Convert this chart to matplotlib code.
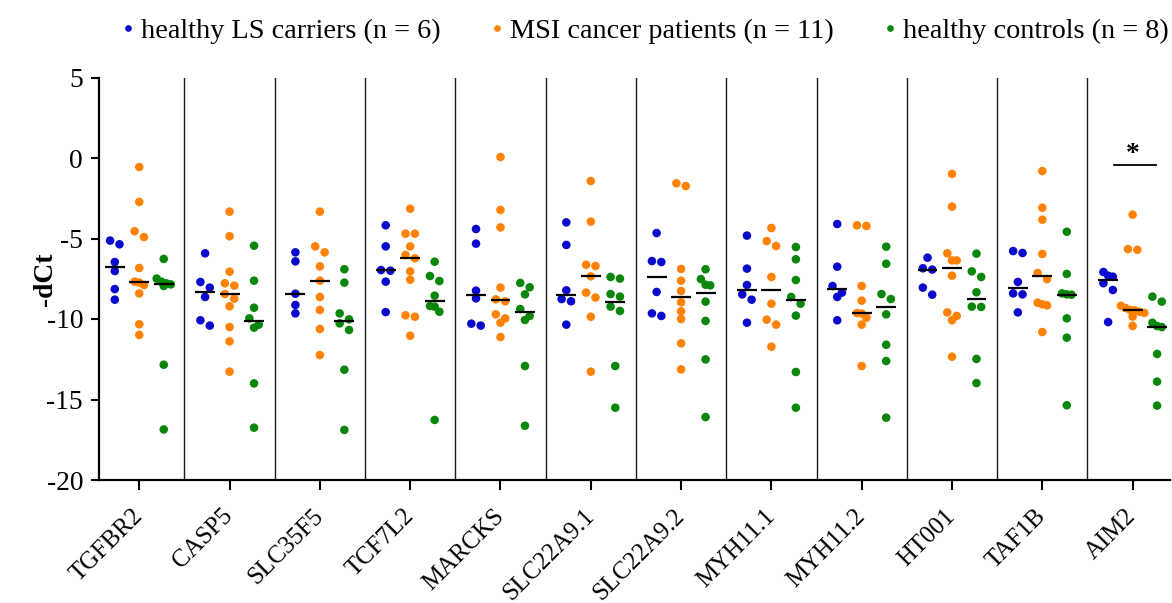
import numpy as np
import matplotlib
matplotlib.use("Agg")
import matplotlib.pyplot as plt
from matplotlib.lines import Line2D

plt.rcParams["font.family"] = ["Liberation Serif", "DejaVu Serif"]
plt.rcParams["axes.unicode_minus"] = False

genes = ["TGFBR2", "CASP5", "SLC35F5", "TCF7L2", "MARCKS", "SLC22A9.1",
         "SLC22A9.2", "MYH11.1", "MYH11.2", "HT001", "TAF1B", "AIM2"]

group_names = ["healthy LS carriers (n = 6)",
               "MSI cancer patients (n = 11)",
               "healthy controls (n = 8)"]
group_colors = ["#0A0ACC", "#FF8205", "#0A860A"]

ls_carriers = [
    [-5.13, -5.36, -6.46, -7.02, -8.14, -8.80],
    [-5.92, -7.70, -8.05, -8.63, -10.08, -10.41],
    [-5.86, -6.42, -8.43, -9.13, -9.65],
    [-4.18, -5.49, -6.96, -7.00, -7.68, -9.57],
    [-4.41, -5.32, -8.24, -8.72, -10.29, -10.41],
    [-4.00, -5.40, -8.22, -8.76, -8.90, -10.35],
    [-4.66, -6.40, -6.46, -8.32, -9.65, -9.81],
    [-4.82, -6.87, -7.89, -8.47, -8.80, -10.23],
    [-4.10, -6.75, -7.95, -8.36, -8.63, -10.08],
    [-6.19, -6.85, -6.93, -8.05, -8.49],
    [-5.78, -5.90, -7.70, -8.41, -8.47, -9.59],
    [-7.08, -7.31, -7.37, -7.78, -8.20, -10.19],
]

msi_patients = [
    [-0.56, -2.73, -4.55, -4.91, -6.83, -7.68, -7.74, -7.89, -8.41, -10.33, -10.99],
    [-3.33, -4.86, -7.06, -7.78, -7.93, -8.45, -8.74, -9.21, -10.50, -11.39, -13.27],
    [-3.33, -5.49, -5.86, -6.73, -7.62, -8.63, -9.44, -10.62, -12.24],
    [-3.15, -4.70, -4.70, -5.49, -6.02, -6.23, -7.04, -7.56, -9.77, -9.86, -11.04],
    [0.06, -3.23, -4.31, -8.05, -8.78, -8.90, -9.71, -9.96, -10.23, -11.12],
    [-1.43, -3.95, -6.63, -6.71, -7.35, -8.36, -8.67, -9.86, -13.27],
    [-1.57, -1.74, -6.89, -7.62, -8.26, -8.96, -9.52, -10.00, -11.51, -13.13],
    [-4.35, -5.16, -5.47, -7.39, -9.05, -10.04, -10.35, -11.72],
    [-4.18, -4.22, -7.95, -8.86, -9.63, -9.66, -9.92, -10.35, -12.92],
    [-0.99, -3.02, -5.92, -6.36, -6.36, -7.31, -9.59, -9.81, -10.08, -12.34],
    [-0.81, -3.09, -3.83, -5.96, -7.14, -7.52, -8.99, -9.09, -9.15, -10.81],
    [-3.52, -5.66, -5.70, -9.18, -9.32, -9.44, -9.46, -9.55, -9.62, -9.85, -10.43],
]

healthy_controls = [
    [-6.27, -7.49, -7.68, -7.78, -7.85, -7.95, -12.84, -16.86],
    [-5.45, -7.62, -9.30, -9.96, -10.35, -10.54, -14.00, -16.75],
    [-6.91, -7.74, -9.65, -10.02, -10.27, -10.68, -13.15, -16.89],
    [-6.44, -7.33, -7.64, -8.55, -9.19, -9.23, -9.55, -16.27],
    [-7.76, -8.03, -8.47, -9.38, -9.81, -10.06, -12.92, -16.63],
    [-7.39, -7.49, -8.45, -8.61, -9.23, -9.50, -12.92, -15.51],
    [-6.91, -7.52, -7.87, -7.91, -8.92, -10.12, -12.51, -16.09],
    [-5.53, -6.29, -7.58, -8.63, -9.05, -9.79, -13.29, -15.51],
    [-5.51, -6.57, -8.45, -8.76, -9.71, -11.60, -12.61, -16.13],
    [-5.94, -7.04, -7.39, -8.34, -9.23, -9.25, -12.48, -13.98],
    [-4.58, -7.20, -8.41, -8.47, -8.49, -9.96, -11.16, -15.36],
    [-8.61, -8.92, -10.23, -10.44, -10.50, -12.17, -13.89, -15.38],
]

groups = [ls_carriers, msi_patients, healthy_controls]
group_shift = [-0.271, 0.0, 0.271]

# significance marker over AIM2
sig_gene = "AIM2"
sig_level = -0.42
sig_text = "*"

FS = 19.8
XFS = 17.8
LFS = 20.3


def row_offsets(vals, bin_size=0.45, step=0.052):
    """Spread points with near-identical values side by side."""
    vals = np.asarray(vals, dtype=float)
    order = np.argsort(-vals, kind="stable")
    offs = np.zeros(len(vals))
    rows, cur = [], []
    for idx in order:
        if cur and vals[cur[0]] - vals[idx] > bin_size:
            rows.append(cur)
            cur = []
        cur.append(idx)
    if cur:
        rows.append(cur)
    for row in rows:
        n = len(row)
        if n > 1:
            half = step * max(1.0, (n - 1) / 2.0)
            for p, idx in zip(np.linspace(-half, half, n), row):
                offs[idx] = p
    return offs


fig = plt.figure(figsize=(11.72, 6.03), dpi=100)
ax = fig.add_axes([99 / 1172, 123 / 603, 1071 / 1172, 402.5 / 603])

pos = np.arange(len(genes))
for g, (data, color, shift) in enumerate(zip(groups, group_colors, group_shift)):
    for i, vals in enumerate(data):
        x0 = pos[i] + shift
        xs = x0 + row_offsets(vals)
        ax.scatter(xs, vals, s=38, color=color, edgecolors="none", zorder=3)
        ax.hlines(np.median(vals), x0 - 0.11, x0 + 0.11, color="black",
                  lw=1.6, zorder=4)

for i in range(len(genes) - 1):
    ax.axvline(pos[i] + 0.5, color="#1a1a1a", lw=1.0, zorder=1)

# significance bar
k = genes.index(sig_gene)
ax.plot([k - 0.21, k + 0.26], [sig_level, sig_level], color="black", lw=1.3)
ax.text(k, sig_level + 0.21, sig_text, ha="center", va="baseline",
        fontsize=FS, fontweight="bold")

ax.set_xlim(-0.446, 11.414)
ax.set_ylim(-20, 5)
ax.set_yticks([5, 0, -5, -10, -15, -20])
ax.set_xticks(pos)
ax.set_xticklabels(genes, rotation=45, ha="right", va="center",
                   rotation_mode="anchor", fontsize=XFS)
ax.tick_params(axis="y", labelsize=FS, length=6, width=1.5, pad=5.5)
ax.tick_params(axis="x", length=7.5, width=1.5, pad=16)
for side in ("top", "right"):
    ax.spines[side].set_visible(False)
for side in ("left", "bottom"):
    ax.spines[side].set_linewidth(1.6)

ax.set_ylabel("-dCt", fontsize=FS, fontweight="bold")
ax.yaxis.set_label_coords(-0.038, 0.5)

handles = [Line2D([], [], marker="o", linestyle="none", markersize=4.8,
                  markerfacecolor=c, markeredgecolor="none")
           for c in group_colors]
fig.legend(handles, group_names, loc="center", ncol=3,
           bbox_to_anchor=(0.551, 0.949), frameon=False, fontsize=LFS,
           handlelength=0.4, handletextpad=0.27, columnspacing=1.79,
           borderpad=0, borderaxespad=0)

fig.savefig("out.png", dpi=100)
